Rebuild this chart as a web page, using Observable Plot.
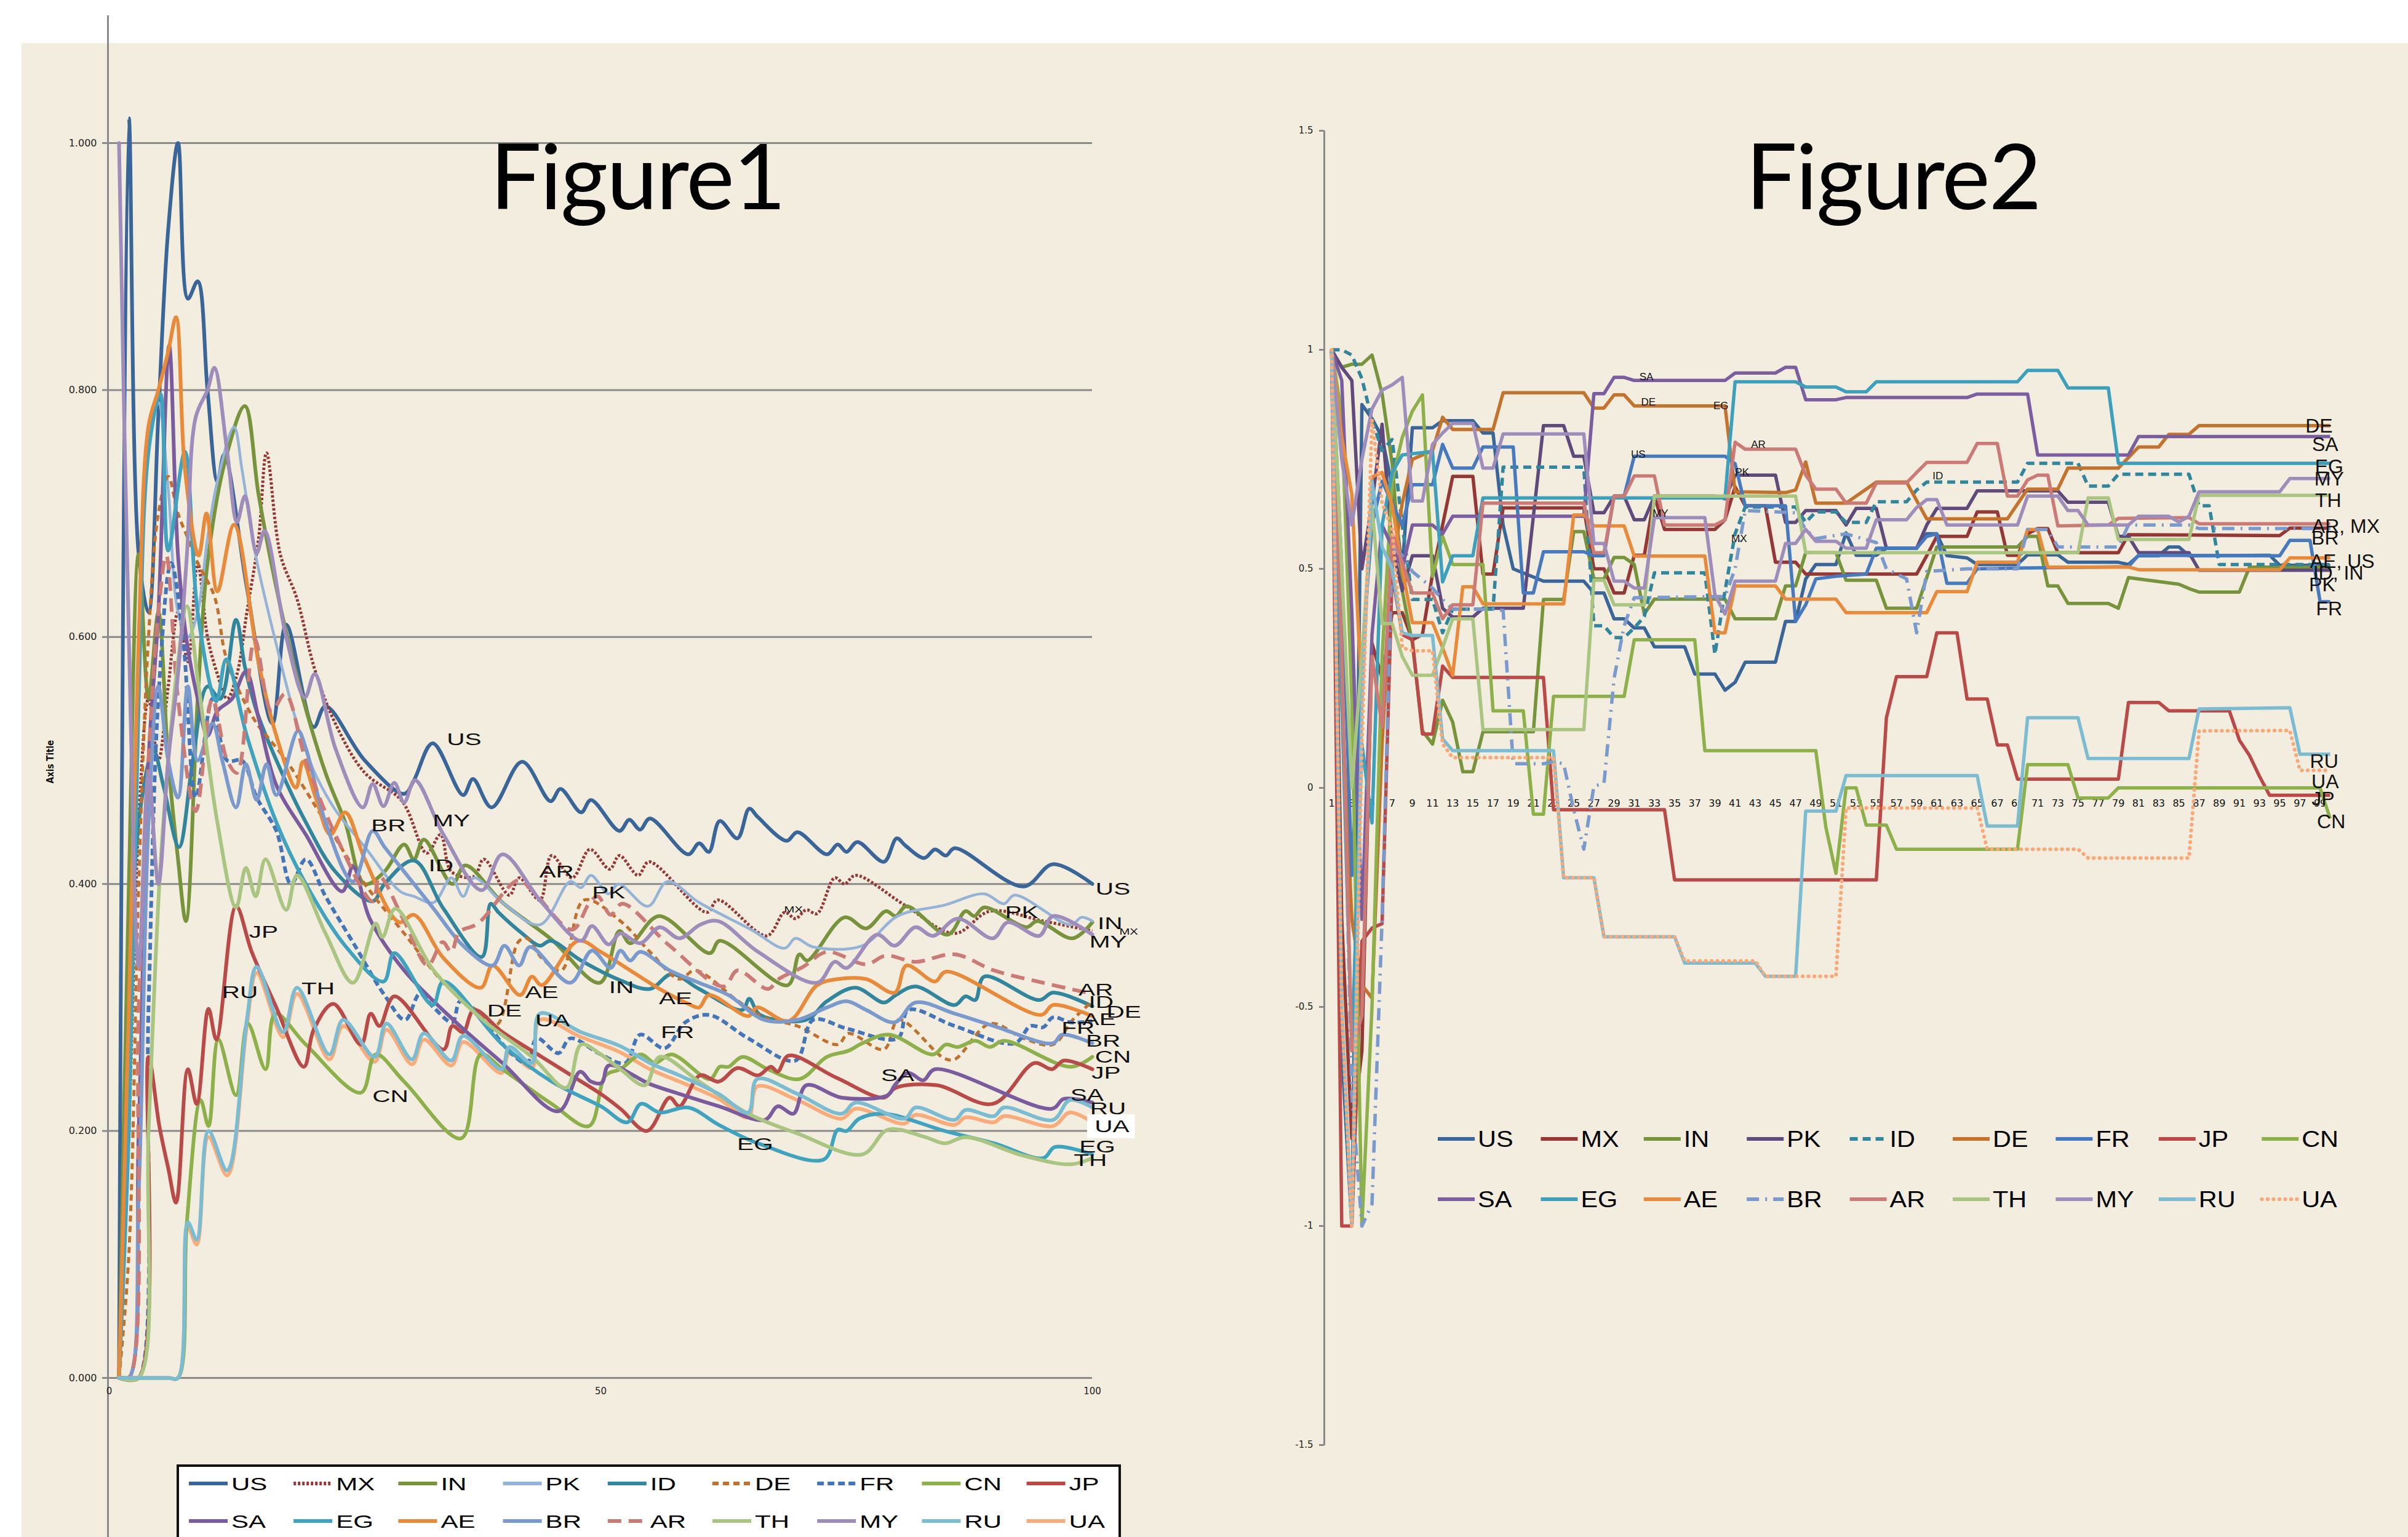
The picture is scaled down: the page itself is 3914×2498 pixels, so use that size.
<!DOCTYPE html>
<html><head><meta charset="utf-8">
<script src="https://cdn.jsdelivr.net/npm/d3@7"></script>
<script src="https://cdn.jsdelivr.net/npm/@observablehq/plot@0.6"></script>
<style>
html,body{margin:0;padding:0;background:#fff;}
#page{position:relative;width:3914px;height:2498px;overflow:hidden;background:#fff;}
#beige{position:absolute;left:35px;top:70px;width:3879px;height:2428px;background:#F3EDDF;}
.vline{position:absolute;background:#8a8a8a;}
</style></head>
<body><div id="page"><div id="beige"></div>
<div class="vline" style="left:174px;top:25px;width:3px;height:2473px;"></div>
<div class="vline" style="left:2151px;top:212px;width:3px;height:2137px;"></div>
</div>
<script>
// ---------------- Figure 1 data: [t, value] ----------------
const f1_US = [[1,0],[2,1.02],[3,0.667],[4,0.62],[5,0.78],[6,0.93],[7,1.0],[8,0.874],[9,0.888],[10,0.8],[11,0.726],[11.7,0.748],[14,0.64],[16.6,0.53],[18,0.61],[20.8,0.527],[22,0.544],[26,0.5],[30,0.473],[31,0.484],[32.9,0.514],[36,0.472],[37,0.485],[38.9,0.462],[42,0.499],[44.9,0.467],[45.9,0.477],[48,0.458],[49,0.468],[51.9,0.443],[52.9,0.452],[54,0.444],[55,0.453],[58.9,0.424],[60,0.433],[61,0.426],[62.1,0.451],[63.9,0.437],[65.1,0.461],[66,0.454],[68.9,0.435],[70,0.442],[73,0.424],[74.1,0.432],[75,0.426],[76.1,0.434],[78.8,0.418],[80.1,0.437],[81,0.431],[82.9,0.421],[84,0.428],[85.1,0.423],[86,0.429],[93,0.398],[96,0.416],[100,0.4]];
const f1_MX = [[1,0],[2,0.2],[3,0.45],[4,0.55],[5,0.5],[6,0.56],[7,0.62],[8,0.58],[9,0.66],[10,0.6],[11,0.57],[12,0.55],[13,0.57],[14,0.62],[15.2,0.68],[16,0.749],[17.4,0.667],[19.1,0.631],[20.9,0.574],[23,0.53],[26,0.49],[29.8,0.467],[32.3,0.425],[33.7,0.44],[34.8,0.41],[37.1,0.406],[38.1,0.42],[40.7,0.391],[41.7,0.405],[43.8,0.387],[45,0.423],[47.1,0.405],[48.9,0.428],[50.9,0.412],[51.9,0.423],[53.8,0.407],[54.9,0.418],[60.8,0.377],[61.9,0.387],[66.9,0.358],[68.7,0.377],[69.8,0.372],[70.9,0.379],[72,0.376],[73.8,0.405],[74.8,0.4],[75.9,0.407],[80.9,0.383],[86,0.36],[89.6,0.378],[95,0.37],[100,0.362]];
const f1_IN = [[1,0],[2,0.4],[3,0.667],[4,0.55],[5,0.62],[6,0.5],[7,0.42],[7.8,0.37],[9,0.55],[10,0.66],[11.8,0.743],[13.8,0.787],[15.2,0.715],[17,0.64],[19.1,0.568],[22,0.49],[24,0.45],[26,0.4],[28,0.41],[30,0.432],[31,0.42],[32,0.436],[34.9,0.4],[36.2,0.415],[40,0.385],[45,0.355],[49.9,0.32],[51.9,0.362],[53,0.352],[55.9,0.374],[61.1,0.344],[62.1,0.354],[69,0.318],[70.2,0.343],[71,0.338],[74.8,0.373],[77,0.364],[79,0.378],[80,0.374],[81.1,0.382],[85.3,0.359],[87.1,0.378],[88,0.374],[89,0.381],[93.3,0.365],[94.4,0.37],[98,0.356],[100,0.369]];
const f1_PK = [[1,0],[2,0.3],[3,0.6],[4,0.75],[5,0.79],[6,0.72],[7,0.62],[8,0.6],[9,0.62],[10,0.68],[11,0.726],[12.7,0.77],[13.5,0.736],[14.9,0.666],[16.9,0.597],[19.1,0.53],[20.8,0.492],[23,0.46],[26,0.43],[29.6,0.394],[31,0.39],[33,0.385],[34.8,0.405],[36,0.39],[37.1,0.405],[40,0.385],[43.8,0.367],[46.9,0.402],[48,0.397],[49,0.407],[50.8,0.392],[51.8,0.4],[54.8,0.382],[56.8,0.402],[60,0.385],[65.3,0.363],[68.7,0.348],[69.8,0.356],[71.6,0.349],[76.6,0.35],[80.2,0.374],[85,0.383],[89,0.392],[91,0.384],[92.1,0.391],[97.8,0.367],[98.9,0.373],[100,0.37]];
const f1_ID = [[1,0],[2,0.25],[3,0.45],[4.5,0.508],[5.5,0.48],[7.1,0.43],[8.5,0.5],[10,0.56],[11.3,0.55],[12.9,0.614],[13.8,0.576],[15,0.54],[17.4,0.493],[20,0.45],[23,0.41],[26.8,0.386],[28,0.4],[31,0.419],[34,0.38],[37.9,0.341],[38.8,0.384],[39.6,0.377],[42,0.36],[43.8,0.35],[44.9,0.354],[48,0.338],[52,0.322],[55,0.315],[57.2,0.327],[60,0.315],[64.4,0.298],[65.1,0.307],[66.2,0.294],[70.9,0.29],[73,0.305],[75.9,0.316],[78.8,0.304],[80,0.31],[82,0.317],[86,0.302],[87.1,0.309],[88.1,0.306],[89,0.325],[94.6,0.306],[96,0.312],[100,0.301]];
const f1_DE = [[1,0],[2,0.1],[3,0.4],[4,0.6],[5,0.7],[6,0.73],[7,0.7],[8,0.68],[9,0.66],[10.7,0.633],[11.8,0.586],[13,0.56],[15,0.53],[16,0.52],[18,0.5],[22,0.45],[26,0.4],[30,0.36],[34,0.32],[37,0.3],[39.4,0.286],[41.6,0.353],[42.5,0.356],[44,0.34],[46,0.33],[48.3,0.387],[52,0.37],[55,0.345],[58,0.323],[59.6,0.33],[64,0.305],[66.6,0.292],[70,0.285],[74.1,0.27],[75.2,0.279],[78.8,0.266],[80.3,0.29],[84.9,0.259],[86,0.258],[89.6,0.287],[93,0.275],[96,0.27],[98,0.29],[100,0.305]];
const f1_FR = [[1,0],[2,0],[3,0],[4,0.3],[5,0.55],[6.3,0.66],[7.5,0.6],[8.8,0.47],[10.5,0.55],[12,0.5],[13.5,0.5],[15,0.47],[17,0.443],[18.5,0.4],[20,0.42],[22,0.39],[25,0.35],[28,0.31],[30.1,0.29],[31.6,0.311],[33,0.3],[34.9,0.288],[35.7,0.305],[38,0.29],[41,0.262],[42.5,0.255],[43.5,0.275],[45.7,0.263],[46.9,0.275],[50,0.262],[52.5,0.255],[54,0.278],[56.5,0.267],[58.6,0.288],[61,0.294],[65,0.275],[69.8,0.257],[71.6,0.29],[75,0.283],[80.2,0.275],[81.3,0.298],[86,0.285],[92.1,0.271],[93.7,0.285],[95,0.284],[96,0.292],[97.8,0.288],[100,0.289]];
const f1_CN = [[1,0],[6,0],[7,0],[7.9,0.126],[9.3,0.225],[10.1,0.204],[11.1,0.274],[12.9,0.229],[14.1,0.287],[15.9,0.25],[16.9,0.295],[20,0.27],[25.6,0.231],[27.1,0.262],[30,0.24],[35.8,0.194],[37.8,0.262],[40,0.25],[45,0.222],[48.8,0.204],[50.5,0.245],[52,0.25],[54.1,0.262],[55.5,0.255],[57.2,0.262],[61.1,0.242],[62.1,0.252],[63,0.252],[64.4,0.26],[67,0.25],[70.2,0.242],[73,0.26],[75.2,0.265],[76.6,0.271],[79.3,0.278],[83.8,0.262],[85.1,0.27],[86.3,0.268],[88.1,0.273],[89.6,0.268],[91,0.273],[97.8,0.252],[100,0.26]];
const f1_JP = [[1,0],[3,0],[4,0.26],[5.1,0.204],[6,0.17],[6.8,0.142],[8,0.25],[8.9,0.222],[10.1,0.299],[10.9,0.274],[12.9,0.382],[14.5,0.345],[17,0.3],[19.8,0.252],[20.8,0.282],[22.8,0.303],[25.6,0.27],[26.6,0.295],[27.5,0.285],[29,0.309],[34,0.266],[34.9,0.285],[36,0.28],[37.1,0.298],[40,0.28],[44,0.26],[47,0.245],[50,0.23],[52,0.218],[54.7,0.2],[57,0.227],[58,0.22],[60.1,0.245],[62,0.24],[63.9,0.251],[66,0.245],[67.3,0.252],[68,0.248],[69.1,0.261],[74,0.243],[78.8,0.227],[80,0.235],[84.2,0.237],[89.9,0.222],[94.1,0.255],[95.9,0.25],[97.1,0.257],[100,0.25]];
const f1_SA = [[1,0],[2,0],[3,0.2],[4,0.5],[5,0.62],[6.1,0.836],[7,0.666],[7.9,0.596],[9,0.55],[10,0.52],[11,0.54],[12.5,0.55],[13.9,0.572],[15.2,0.534],[17,0.48],[20,0.44],[23.7,0.394],[24.8,0.414],[26.5,0.372],[30,0.33],[35,0.29],[40,0.255],[45.7,0.216],[47.9,0.248],[49,0.24],[50.1,0.239],[50.8,0.253],[55,0.238],[58,0.23],[62,0.22],[66.7,0.209],[68,0.22],[69.6,0.214],[70.9,0.237],[74.5,0.227],[79.2,0.229],[79.9,0.237],[81.3,0.247],[82.8,0.241],[84,0.25],[95.9,0.218],[97.1,0.226],[100,0.223]];
const f1_EG = [[1,0],[2,0.2],[3,0.55],[4,0.75],[5.2,0.797],[6,0.67],[7.7,0.75],[9,0.62],[10.9,0.548],[11.9,0.582],[14,0.52],[17,0.45],[20,0.4],[24,0.35],[27.9,0.321],[29,0.344],[32.9,0.302],[34,0.321],[40,0.27],[45,0.24],[50,0.22],[52.7,0.207],[54.1,0.222],[56,0.215],[58.9,0.219],[62,0.205],[66,0.19],[72.7,0.177],[74.1,0.201],[75,0.2],[76.3,0.21],[78.8,0.214],[85,0.2],[90,0.19],[95,0.178],[96.2,0.187],[100,0.181]];
const f1_AE = [[1,0],[2,0.3],[3,0.6],[4,0.771],[5,0.8],[6,0.831],[6.8,0.859],[7.7,0.736],[9.1,0.666],[9.9,0.7],[11,0.637],[12.7,0.691],[15.2,0.579],[17,0.52],[19,0.478],[19.7,0.499],[21,0.47],[22.5,0.44],[24,0.458],[26,0.42],[29.5,0.369],[31,0.375],[34,0.34],[37.8,0.316],[39,0.334],[41.8,0.31],[43,0.325],[44,0.318],[47.7,0.354],[50,0.345],[53,0.33],[56,0.315],[58.9,0.303],[60,0.3],[61,0.31],[65,0.293],[65.9,0.3],[69.1,0.289],[72,0.318],[74.1,0.323],[77,0.323],[79.9,0.312],[81.1,0.334],[84,0.321],[85.1,0.329],[94.8,0.294],[96,0.302],[100,0.293]];
const f1_BR = [[1,0],[2,0],[3,0.15],[4,0.45],[5,0.56],[6,0.5],[7,0.47],[8,0.56],[9,0.5],[10.5,0.53],[11.5,0.5],[12.9,0.462],[13.9,0.497],[15,0.468],[16,0.497],[17,0.472],[19.2,0.524],[20,0.51],[22,0.45],[24.8,0.402],[26.8,0.443],[28,0.43],[30,0.41],[33,0.38],[36,0.35],[39,0.334],[40.2,0.35],[41.7,0.334],[42.8,0.349],[46.9,0.32],[49.1,0.346],[51,0.332],[52,0.346],[53,0.338],[54,0.345],[57,0.33],[60,0.32],[63,0.31],[66.6,0.29],[70,0.29],[73,0.3],[75,0.305],[77,0.298],[79.9,0.288],[82,0.304],[86,0.295],[90,0.285],[96,0.271],[96.9,0.278],[100,0.271]];
const f1_AR = [[1,0],[2,0],[3,0.3],[4,0.5],[5,0.62],[5.8,0.666],[7,0.55],[8.8,0.459],[10.5,0.55],[12,0.5],[13,0.49],[14.8,0.598],[16.5,0.54],[17.9,0.554],[20,0.5],[23,0.44],[26.8,0.386],[27.5,0.406],[30,0.37],[32.4,0.334],[33.9,0.353],[34.8,0.345],[35.6,0.361],[37.5,0.368],[41.6,0.403],[43,0.395],[47.1,0.363],[48.8,0.384],[49.7,0.39],[51,0.375],[52.2,0.384],[57,0.35],[62.5,0.317],[63.9,0.33],[67,0.315],[68.1,0.323],[70.6,0.333],[73,0.345],[77,0.335],[79,0.342],[82,0.337],[86,0.343],[90,0.33],[95,0.32],[100,0.311]];
const f1_TH = [[1,0],[3,0],[4,0.2],[5.1,0.4],[6,0.5],[7,0.58],[7.9,0.625],[9.1,0.56],[11,0.45],[12.9,0.381],[13.9,0.413],[14.9,0.39],[15.9,0.42],[18,0.379],[19.1,0.407],[22,0.36],[24.8,0.32],[27.1,0.368],[27.8,0.357],[29.1,0.38],[33,0.33],[38,0.29],[43,0.26],[46.5,0.235],[48,0.27],[50,0.262],[52,0.25],[54.5,0.237],[56,0.26],[60,0.24],[65,0.214],[70,0.198],[76.6,0.181],[79.2,0.201],[83,0.195],[85,0.19],[87.1,0.195],[93,0.18],[97.8,0.173],[100,0.178]];
const f1_MY = [[1,1.0],[2,0.6],[3,0.333],[4,0.49],[5,0.4],[6,0.5],[7,0.57],[7.9,0.666],[8.8,0.778],[10,0.8],[10.7,0.818],[12,0.75],[13,0.693],[13.8,0.714],[15,0.668],[15.8,0.686],[18,0.6],[19.9,0.551],[20.9,0.57],[23,0.51],[25.8,0.462],[26.8,0.481],[27.9,0.463],[29,0.482],[30,0.466],[31.1,0.484],[34,0.44],[37.9,0.395],[40,0.424],[44,0.385],[48,0.354],[49.1,0.366],[50.8,0.351],[52,0.36],[54,0.352],[56,0.365],[58,0.356],[60.1,0.367],[61.9,0.37],[66,0.345],[72,0.32],[73.8,0.337],[75,0.332],[78.1,0.359],[79.9,0.35],[82,0.365],[83.8,0.358],[86.3,0.372],[89.9,0.356],[91.4,0.369],[94.6,0.358],[96,0.374],[100,0.359]];
const f1_RU = [[1,0],[6,0],[7,0],[8,0.126],[8.9,0.112],[10.1,0.2],[12,0.168],[14,0.29],[15,0.333],[17.7,0.28],[19.1,0.316],[22.4,0.262],[23.8,0.29],[27,0.26],[28.2,0.287],[30.8,0.258],[32,0.279],[34.8,0.257],[36,0.277],[39.9,0.25],[40.7,0.268],[43,0.255],[43.8,0.295],[48,0.28],[51.9,0.269],[55,0.255],[58,0.245],[62,0.23],[65,0.215],[65.9,0.242],[70,0.23],[74.5,0.214],[75.9,0.223],[80.9,0.21],[82,0.219],[86,0.209],[87.1,0.217],[90,0.212],[91,0.219],[96,0.209],[97.7,0.225],[100,0.219]];
const f1_UA = [[1,0],[6,0],[7,0],[8,0.122],[8.9,0.108],[10.1,0.195],[12,0.164],[14,0.285],[15,0.328],[17.7,0.276],[19.1,0.311],[22.4,0.258],[23.8,0.285],[27,0.256],[28.2,0.282],[30.8,0.254],[32,0.274],[34.8,0.253],[36,0.272],[39.9,0.247],[40.7,0.263],[43,0.251],[43.8,0.29],[48,0.276],[51.9,0.264],[55,0.25],[58,0.24],[62,0.226],[65,0.211],[65.9,0.236],[70,0.225],[74.5,0.21],[75.9,0.218],[80.9,0.206],[82,0.213],[86,0.205],[87.1,0.211],[90,0.207],[91,0.212],[96,0.204],[97.7,0.215],[100,0.207]];

const f1_labels = [["US",36.1,0.517],["BR",28.4,0.447],["MY",34.8,0.451],["ID",33.75,0.415],["AR",45.5,0.41],["PK",50.8,0.393],["JP",15.7,0.361],["RU",13.3,0.312],["TH",21.25,0.315],["DE",40.2,0.297],["AE",44,0.312],["UA",45.1,0.289],["IN",52.1,0.316],["AE",57.6,0.307],["FR",57.8,0.28],["CN",28.6,0.228],["SA",80.2,0.245],["EG",65.7,0.189],
  ["US",102.1,0.396],["PK",92.8,0.377],["IN",101.8,0.368],["MY",101.6,0.353],["AR",100.35,0.314],["ID",100.9,0.304],["DE",103.2,0.296],["AE",100.7,0.29],["FR",98.55,0.283],["BR",101.1,0.273],["CN",102.1,0.26],["JP",101.4,0.247],["SA",99.45,0.229],["RU",101.6,0.218],["UA",102,0.2035],["EG",100.5,0.187],["TH",99.8,0.176]];
const f1_smallLabels = [["MX",69.6,0.379],["MX",103.7,0.361]];
const f1_yTicks = [0, 0.2, 0.4, 0.6, 0.8, 1.0];
const f1_xTicks = [0, 50, 100];
const f1_legendRow1 = ["US","MX","IN","PK","ID","DE","FR","CN","JP"];
const f1_legendRow2 = ["SA","EG","AE","BR","AR","TH","MY","RU","UA"];

// ---------------- Figure 2 data: [category, value] ----------------
const f2_US = [[1,1],[2,-0.6],[3,-1.0],[4,0.875],[5,0.843],[6,0.8],[7,0.687],[8,0.5],[9,0.822],[11,0.822],[12,0.838],[15,0.838],[16,0.81],[17,0.81],[18,0.6],[19,0.5],[22,0.472],[26,0.472],[27,0.445],[28,0.445],[29,0.386],[30,0.386],[31,0.365],[32,0.365],[33,0.322],[36,0.322],[37,0.26],[39,0.26],[40,0.223],[41,0.241],[42,0.287],[45,0.287],[46,0.38],[47,0.38],[48,0.477],[49,0.51],[51,0.51],[52,0.582],[53,0.531],[55,0.531],[56,0.547],[59,0.547],[60,0.58],[61,0.58],[62,0.53],[64,0.525],[65,0.51],[69,0.51],[70,0.532],[73,0.532],[74,0.515],[79,0.515],[80,0.51],[81,0.53],[83,0.53],[84,0.55],[85,0.55],[86,0.53],[94,0.531],[95,0.508],[100,0.508]];
const f2_MX = [[1,1],[2,-0.3],[3,-0.8],[4,-0.6],[5,0.33],[6,0.25],[7,0.4],[8,0.4],[9,0.338],[10,0.35],[11,0.488],[12,0.6],[13,0.711],[15,0.711],[16,0.488],[17,0.488],[18,0.639],[26,0.639],[27,0.5],[28,0.5],[29,0.445],[30,0.445],[31,0.531],[32,0.531],[33,0.666],[34,0.59],[39,0.59],[40,0.612],[41,0.687],[42,0.644],[44,0.644],[45,0.515],[47,0.515],[48,0.488],[59,0.488],[60,0.53],[61,0.574],[64,0.574],[65,0.63],[67,0.63],[68,0.531],[69,0.531],[70,0.58],[71,0.592],[72,0.592],[73,0.537],[79,0.537],[80,0.578],[95,0.576],[96,0.593],[100,0.593]];
const f2_IN = [[1,1],[2,0.96],[3,0.967],[4,0.967],[5,0.988],[6,0.9],[7,0.74],[8,0.45],[9,0.33],[10,0.13],[11,0.1],[12,0.2],[13,0.15],[14,0.037],[15,0.037],[16,0.128],[21,0.128],[22,0.43],[24,0.43],[25,0.585],[26,0.585],[27,0.477],[28,0.477],[29,0.526],[30,0.526],[31,0.51],[32,0.397],[33,0.431],[40,0.431],[41,0.386],[45,0.386],[46,0.461],[47,0.461],[48,0.537],[51,0.537],[52,0.474],[55,0.474],[56,0.41],[59,0.41],[60,0.48],[61,0.55],[69,0.55],[70,0.574],[71,0.574],[72,0.461],[73,0.461],[74,0.421],[78,0.421],[79,0.41],[80,0.48],[85,0.465],[86,0.455],[87,0.447],[91,0.447],[92,0.504],[100,0.504]];
const f2_PK = [[1,1],[2,0.96],[3,0.93],[4,0.5],[5,0.65],[6,0.83],[7,0.55],[8,0.45],[9,0.53],[11,0.53],[12,0.41],[13,0.39],[15,0.39],[16,0.41],[20,0.41],[21,0.62],[22,0.827],[24,0.827],[25,0.757],[26,0.757],[27,0.628],[28,0.628],[29,0.666],[30,0.666],[31,0.612],[32,0.612],[33,0.666],[39,0.666],[40,0.66],[41,0.714],[45,0.714],[46,0.606],[47,0.606],[48,0.633],[51,0.633],[52,0.6],[53,0.638],[55,0.638],[56,0.547],[59,0.547],[60,0.6],[61,0.638],[64,0.638],[65,0.678],[73,0.678],[74,0.652],[78,0.652],[79,0.574],[80,0.574],[81,0.537],[86,0.537],[87,0.497],[100,0.497]];
const f2_ID = [[1,1],[2,1.0],[3,0.988],[4,0.934],[5,0.84],[6,0.77],[7,0.795],[8,0.6],[9,0.43],[11,0.43],[12,0.354],[13,0.408],[17,0.408],[18,0.732],[26,0.732],[27,0.37],[28,0.37],[29,0.343],[30,0.343],[31,0.365],[32,0.391],[33,0.491],[38,0.491],[39,0.305],[40,0.45],[41,0.58],[42,0.641],[47,0.641],[48,0.606],[49,0.63],[51,0.63],[52,0.606],[54,0.606],[55,0.653],[58,0.653],[59,0.68],[60,0.698],[69,0.698],[70,0.741],[75,0.741],[76,0.689],[78,0.689],[79,0.716],[86,0.716],[87,0.644],[88,0.644],[89,0.51],[100,0.51]];
const f2_DE = [[1,1],[2,0.2],[3,-0.3],[4,-0.45],[5,-0.48],[6,0.1],[7,0.5],[8,0.65],[9,0.75],[10,0.76],[11,0.77],[12,0.846],[13,0.818],[17,0.818],[18,0.902],[26,0.902],[27,0.867],[28,0.867],[29,0.897],[30,0.897],[31,0.872],[40,0.872],[41,0.676],[46,0.674],[47,0.68],[48,0.744],[49,0.65],[52,0.65],[55,0.698],[58,0.698],[60,0.614],[68,0.614],[70,0.682],[73,0.682],[74,0.73],[79,0.73],[81,0.778],[83,0.778],[84,0.807],[86,0.807],[87,0.827],[100,0.827]];
const f2_FR = [[1,1],[2,0.5],[3,-0.2],[4,0.3],[5,0.6],[6,0.7],[7,0.65],[8,0.6],[9,0.692],[11,0.692],[12,0.784],[13,0.73],[15,0.73],[16,0.778],[19,0.778],[20,0.445],[21,0.445],[22,0.539],[26,0.539],[27,0.53],[28,0.53],[29,0.666],[30,0.666],[31,0.757],[40,0.757],[41,0.74],[42,0.644],[46,0.644],[47,0.38],[48,0.418],[49,0.477],[51,0.483],[54,0.488],[55,0.547],[59,0.547],[60,0.574],[61,0.58],[62,0.467],[64,0.467],[65,0.5],[70,0.502],[80,0.505],[81,0.531],[95,0.53],[96,0.565],[98,0.565],[99,0.425],[100,0.425]];
const f2_JP = [[1,1],[2,-1],[3,-1],[4,-0.35],[5,-0.32],[6,-0.31],[7,0.49],[8,0.35],[9,0.338],[10,0.123],[11,0.123],[12,0.278],[13,0.252],[22,0.252],[23,-0.05],[34,-0.05],[35,-0.21],[55,-0.21],[56,0.16],[57,0.254],[60,0.254],[61,0.354],[63,0.354],[64,0.203],[66,0.203],[67,0.098],[68,0.098],[69,0.02],[79,0.02],[80,0.195],[83,0.195],[84,0.176],[90,0.176],[91,0.109],[92,0.074],[93,0.026],[94,-0.017],[100,-0.017]];
const f2_CN = [[1,1],[2,0.85],[3,0.2],[4,-1.0],[5,-0.5],[6,0.3],[7,0.7],[8,0.8],[9,0.86],[10,0.897],[11,0.483],[12,0.574],[13,0.51],[16,0.51],[17,0.176],[20,0.176],[21,-0.06],[22,-0.06],[23,0.209],[30,0.209],[31,0.338],[37,0.338],[38,0.085],[49,0.085],[50,-0.09],[51,-0.195],[52,0.0],[53,0.0],[54,-0.085],[56,-0.085],[57,-0.14],[69,-0.14],[70,0.053],[74,0.053],[75,-0.023],[78,-0.023],[79,0.0],[99,0.0],[100,-0.07]];
const f2_SA = [[1,1],[2,0.93],[3,0.4],[4,-0.3],[5,0.35],[6,0.6],[7,0.55],[8,0.5],[9,0.6],[11,0.6],[12,0.58],[13,0.62],[26,0.62],[27,0.9],[28,0.9],[29,0.937],[30,0.937],[31,0.93],[40,0.93],[41,0.947],[45,0.947],[46,0.96],[47,0.96],[48,0.886],[51,0.886],[52,0.891],[64,0.891],[65,0.899],[70,0.899],[71,0.76],[80,0.76],[81,0.802],[100,0.802]];
const f2_EG = [[1,1],[2,0.2],[3,-0.6],[4,0.1],[5,-0.08],[6,0.6],[7,0.72],[8,0.76],[11,0.768],[12,0.47],[13,0.53],[15,0.53],[16,0.662],[40,0.662],[41,0.927],[47,0.927],[48,0.915],[51,0.915],[52,0.904],[54,0.904],[55,0.927],[69,0.927],[70,0.953],[73,0.953],[74,0.913],[78,0.913],[79,0.741],[100,0.741]];
const f2_AE = [[1,1],[2,0.8],[3,0.67],[4,0.2],[5,0.71],[6,0.72],[7,0.645],[8,0.5],[9,0.377],[11,0.377],[12,0.32],[13,0.257],[14,0.459],[15,0.459],[16,0.42],[24,0.42],[25,0.623],[26,0.623],[27,0.598],[30,0.598],[31,0.529],[38,0.529],[39,0.354],[40,0.354],[41,0.461],[45,0.461],[46,0.431],[51,0.431],[52,0.4],[60,0.4],[61,0.448],[64,0.448],[65,0.515],[69,0.515],[70,0.59],[71,0.59],[72,0.504],[80,0.504],[81,0.498],[95,0.498],[96,0.525],[100,0.525]];
const f2_BR = [[1,1],[2,0.3],[3,-0.7],[4,-1],[5,-0.95],[6,-0.3],[7,0.55],[8,0.53],[9,0.494],[10,0.475],[11,0.456],[12,0.43],[13,0.408],[17,0.408],[18,0.405],[19,0.055],[22,0.055],[23,0.06],[24,0.055],[25,-0.05],[26,-0.14],[27,0.004],[28,0.01],[29,0.25],[30,0.37],[31,0.434],[40,0.437],[41,0.5],[42,0.633],[47,0.628],[48,0.59],[49,0.569],[52,0.58],[55,0.56],[56,0.5],[58,0.477],[59,0.354],[60,0.494],[64,0.5],[69,0.5],[70,0.59],[72,0.59],[73,0.55],[79,0.55],[80,0.6],[86,0.6],[87,0.592],[100,0.592]];
const f2_AR = [[1,1],[2,0.3],[3,-0.6],[4,-0.52],[5,0.3],[6,0.139],[7,0.58],[8,0.515],[9,0.445],[11,0.445],[12,0.386],[13,0.418],[15,0.418],[16,0.65],[26,0.65],[27,0.537],[28,0.537],[29,0.666],[30,0.666],[31,0.712],[33,0.712],[34,0.6],[39,0.6],[40,0.612],[41,0.789],[42,0.773],[47,0.773],[48,0.714],[49,0.682],[51,0.682],[52,0.65],[54,0.65],[55,0.696],[58,0.696],[59,0.72],[60,0.743],[64,0.743],[65,0.786],[67,0.786],[68,0.666],[69,0.666],[70,0.703],[71,0.714],[72,0.714],[73,0.598],[78,0.6],[79,0.615],[86,0.617],[87,0.603],[100,0.603]];
const f2_TH = [[1,1],[2,0.5],[3,0.0],[4,0.3],[5,0.644],[6,0.375],[7,0.375],[8,0.3],[9,0.257],[11,0.257],[12,0.32],[13,0.386],[15,0.386],[16,0.133],[26,0.133],[27,0.474],[28,0.474],[29,0.418],[32,0.418],[33,0.666],[47,0.666],[48,0.537],[75,0.537],[76,0.662],[78,0.662],[79,0.567],[86,0.567],[87,0.668],[100,0.668]];
const f2_MY = [[1,1],[2,0.75],[3,0.6],[4,0.75],[5,0.865],[6,0.908],[7,0.92],[8,0.937],[9,0.655],[10,0.655],[11,0.784],[12,0.81],[13,0.832],[15,0.832],[16,0.73],[17,0.73],[18,0.808],[26,0.808],[27,0.558],[28,0.558],[29,0.472],[30,0.472],[31,0.456],[32,0.456],[33,0.617],[38,0.617],[39,0.44],[40,0.397],[41,0.472],[45,0.472],[46,0.558],[47,0.558],[48,0.59],[49,0.563],[51,0.563],[52,0.547],[54,0.547],[55,0.612],[58,0.612],[59,0.64],[60,0.658],[61,0.658],[62,0.6],[69,0.6],[70,0.666],[73,0.666],[74,0.633],[75,0.633],[76,0.6],[80,0.6],[81,0.62],[84,0.62],[85,0.607],[86,0.62],[87,0.676],[95,0.676],[96,0.706],[100,0.706]];
const f2_RU = [[1,1],[2,-0.5],[3,-1.0],[4,0.2],[5,0.7],[6,0.55],[7,0.5],[8,0.354],[9,0.348],[11,0.348],[12,0.112],[13,0.085],[23,0.085],[24,-0.205],[27,-0.205],[28,-0.34],[35,-0.34],[36,-0.4],[43,-0.4],[44,-0.43],[47,-0.43],[48,-0.053],[51,-0.053],[52,0.028],[65,0.028],[66,-0.087],[69,-0.087],[70,0.16],[75,0.16],[76,0.067],[86,0.067],[87,0.18],[96,0.183],[97,0.077],[100,0.077]];
const f2_UA = [[1,1],[2,-0.5],[3,-1],[4,0.1],[5,0.84],[6,0.65],[7,0.59],[8,0.32],[9,0.313],[11,0.313],[12,0.1],[13,0.069],[23,0.069],[24,-0.205],[27,-0.205],[28,-0.34],[35,-0.34],[36,-0.395],[43,-0.395],[44,-0.43],[51,-0.43],[52,-0.046],[65,-0.046],[66,-0.14],[75,-0.14],[76,-0.16],[86,-0.16],[87,0.13],[96,0.131],[97,0.04],[100,0.04]];

const f2_midLabels = [["SA",32.2,0.938],["DE",32.4,0.88],["EG",39.6,0.872],["US",31.4,0.761],["AR",43.3,0.783],["PK",41.7,0.72],["MY",33.6,0.626],["MX",41.4,0.569],["ID",61.1,0.712]];
const f2_endLabels = [["DE",98.9,0.826],["SA",99.5,0.784],["EG",99.9,0.733],["MY",99.9,0.705],["TH",99.8,0.656],["AR, MX",101.55,0.597],["BR",99.5,0.57],["AE, US",101.2,0.517],["ID, IN",100.8,0.49],["PK",99.2,0.463],["FR",99.9,0.409],["RU",99.4,0.06],["UA",99.5,0.014],["JP",99.3,-0.025],["CN",100.1,-0.077]];
const f2_yTicks = [-1.5,-1,-0.5,0,0.5,1,1.5];
const f2_xLabels = d3.range(1, 100, 2);
const f2_legendRow1 = ["US","MX","IN","PK","ID","DE","FR","JP","CN"];
const f2_legendRow2 = ["SA","EG","AE","BR","AR","TH","MY","RU","UA"];

// ---------------- styles ----------------
const S1 = {
  US:{c:"#3A6598",w:6}, MX:{c:"#953735",w:5,d:"4,3"}, IN:{c:"#77933C",w:6}, PK:{c:"#95B3D7",w:4.5},
  ID:{c:"#31859C",w:6}, DE:{c:"#C0712E",w:5,d:"10,7"}, FR:{c:"#4575B9",w:6,d:"11,6"}, CN:{c:"#8DB04B",w:6},
  JP:{c:"#B94A48",w:6}, SA:{c:"#7A5C9E",w:6}, EG:{c:"#3FA2BE",w:6}, AE:{c:"#E9893A",w:6},
  BR:{c:"#7A99CC",w:6}, AR:{c:"#CC7A76",w:6,d:"22,12"}, TH:{c:"#AAC581",w:6}, MY:{c:"#9E8CBB",w:6},
  RU:{c:"#7CBCD3",w:6}, UA:{c:"#F9AB7A",w:6}
};
const S2 = {
  US:{c:"#3A6598",w:5.5}, MX:{c:"#953735",w:5.5}, IN:{c:"#77933C",w:5.5}, PK:{c:"#604A7B",w:5.5},
  ID:{c:"#31859C",w:5.5,d:"13,8"}, DE:{c:"#C3732D",w:5.5}, FR:{c:"#4679BD",w:5.5}, JP:{c:"#B94A48",w:5.5},
  CN:{c:"#8DB04B",w:5.5}, SA:{c:"#7B5EA0",w:5.5}, EG:{c:"#3C9FBB",w:5.5}, AE:{c:"#E9893A",w:5.5},
  BR:{c:"#7A99CC",w:5.5,d:"20,10,3,10"}, AR:{c:"#CC7A76",w:5.5}, TH:{c:"#AAC581",w:5.5}, MY:{c:"#9E8CBB",w:5.5},
  RU:{c:"#7CBCD3",w:5.5}, UA:{c:"#F9A877",w:6,d:"0.5,9",cap:"round"}
};
const F1 = {US:f1_US,MX:f1_MX,IN:f1_IN,PK:f1_PK,ID:f1_ID,DE:f1_DE,FR:f1_FR,CN:f1_CN,JP:f1_JP,SA:f1_SA,EG:f1_EG,AE:f1_AE,BR:f1_BR,AR:f1_AR,TH:f1_TH,MY:f1_MY,RU:f1_RU,UA:f1_UA};
const F2 = {US:f2_US,MX:f2_MX,IN:f2_IN,PK:f2_PK,ID:f2_ID,DE:f2_DE,FR:f2_FR,JP:f2_JP,CN:f2_CN,SA:f2_SA,EG:f2_EG,AE:f2_AE,BR:f2_BR,AR:f2_AR,TH:f2_TH,MY:f2_MY,RU:f2_RU,UA:f2_UA};
const order1 = ["UA","US","MX","IN","PK","ID","DE","FR","CN","JP","SA","EG","AE","BR","AR","TH","MY","RU"];
const order2 = ["US","MX","IN","PK","ID","DE","FR","JP","CN","SA","EG","AE","BR","AR","TH","MY","RU","UA"];

const page = document.getElementById("page");

// ---------------- Figure 1 ----------------
const fig1 = Plot.plot({
  width: 1900, height: 2498,
  marginLeft: 176, marginRight: 125, marginTop: 232, marginBottom: 259,
  x: {domain: [0, 100], range: [177, 1775]},
  y: {domain: [0, 1], range: [2239, 232]},
  style: {background: "transparent", overflow: "visible", fontFamily: "DejaVu Sans", color: "#222"},
  marks: [
    Plot.ruleY(f1_yTicks, {stroke: "#8a8a8a", strokeWidth: 3}),
    Plot.axisY({ticks: f1_yTicks, tickFormat: d3.format(".3f"), tickSize: 10, tickPadding: 9, stroke: "#8a8a8a", strokeWidth: 3, fontSize: 16}),
    Plot.axisX({ticks: f1_xTicks, tickSize: 0, tickPadding: 16, fontSize: 15, tickFormat: d => String(d)}),
    ...order1.map(k => Plot.line(F1[k], {x: d => d[0], y: d => d[1], curve: "catmull-rom", stroke: S1[k].c, strokeWidth: S1[k].w, strokeDasharray: S1[k].d, strokeLinejoin: "round", strokeLinecap: S1[k].d ? "butt" : "round"})),
    Plot.rect(f1_labels.filter(d => d[0] === "UA" && d[1] > 100), {x1: d => d[1] - 2.5, x2: d => d[1] + 2.35, y1: d => d[2] - 0.0095, y2: d => d[2] + 0.0098, fill: "white"}),
    Plot.text(f1_labels, {x: d => d[1], y: d => d[2], text: d => d[0], fontSize: 28, fontFamily: "Liberation Sans", fill: "#111"}),
    Plot.text(f1_smallLabels, {x: d => d[1], y: d => d[2], text: d => d[0], fontSize: 14, fontFamily: "Liberation Sans", fill: "#111"})
  ]
});
fig1.style.position = "absolute"; fig1.style.left = "0px"; fig1.style.top = "0px";
page.appendChild(fig1);
fig1.querySelectorAll('g[aria-label="text"] text').forEach(t => {
  t.setAttribute("transform", (t.getAttribute("transform") || "") + " scale(1.45,1)");
});

// ---------------- Figure 2 ----------------
const fig2 = Plot.plot({
  width: 2014, height: 2498,
  marginLeft: 252, marginRight: 100, marginTop: 212, marginBottom: 150,
  x: {domain: [1, 100], range: [264, 1887], axis: null},
  y: {domain: [-1.5, 1.5], range: [2348, 212]},
  style: {background: "transparent", overflow: "visible", fontFamily: "DejaVu Sans", color: "#222"},
  marks: [
    Plot.axisY({ticks: f2_yTicks, tickSize: 8, tickPadding: 10, stroke: "#8a8a8a", strokeWidth: 3, fontSize: 15, tickFormat: d => (d < 0 ? "-" + Math.abs(d) : String(d))}),
    Plot.text(f2_xLabels, {x: d => d, y: () => 0, dy: 25, text: d => String(d), fontSize: 16, fontFamily: "DejaVu Sans", fill: "#111"}),
    ...order2.map(k => Plot.line(F2[k], {x: d => d[0], y: d => d[1], stroke: S2[k].c, strokeWidth: S2[k].w, strokeDasharray: S2[k].d, strokeLinejoin: "round", strokeLinecap: S2[k].cap || "butt"})),
    Plot.text(f2_midLabels, {x: d => d[1], y: d => d[2], text: d => d[0], fontSize: 17, fontFamily: "Liberation Sans", fill: "#111"}),
    Plot.text(f2_endLabels, {x: d => d[1], y: d => d[2], text: d => d[0], fontSize: 32, fontFamily: "Liberation Sans", fill: "#111"})
  ]
});
fig2.style.position = "absolute"; fig2.style.left = "1900px"; fig2.style.top = "0px";
page.appendChild(fig2);

// ---------------- overlay: titles, axis title, legends ----------------
const ov = d3.select(page).append("svg")
  .attr("width", 3914).attr("height", 2498)
  .style("position", "absolute").style("left", "0px").style("top", "0px");

ov.append("text").attr("x", 1036).attr("y", 340).attr("text-anchor", "middle")
  .attr("font-family", "Lato, 'Open Sans', sans-serif").attr("font-size", 148).attr("letter-spacing", -2).attr("fill", "#000").text("Figure1");
ov.append("text").attr("x", 3077).attr("y", 340).attr("text-anchor", "middle")
  .attr("font-family", "Lato, 'Open Sans', sans-serif").attr("font-size", 148).attr("letter-spacing", -2).attr("fill", "#000").text("Figure2");
ov.append("text").attr("transform", "translate(87,1238) rotate(-90)").attr("text-anchor", "middle")
  .attr("font-family", "'Liberation Sans Narrow','DejaVu Sans Condensed',sans-serif").attr("font-weight", "bold")
  .attr("font-size", 15).attr("fill", "#111").text("Axis Title");

// Figure 1 legend
ov.append("rect").attr("x", 289).attr("y", 2382).attr("width", 1531).attr("height", 200)
  .attr("fill", "#fff").attr("stroke", "#111").attr("stroke-width", 4);
[f1_legendRow1, f1_legendRow2].forEach((row, r) => {
  const y = r === 0 ? 2411 : 2472;
  row.forEach((k, j) => {
    const x = 307 + j * 170.2;
    ov.append("line").attr("x1", x).attr("x2", x + 63).attr("y1", y).attr("y2", y)
      .attr("stroke", S1[k].c).attr("stroke-width", 6).attr("stroke-dasharray", S1[k].d || null);
    ov.append("text").attr("transform", `translate(${x + 69},${y + 10.5}) scale(1.45,1)`)
      .attr("font-family", "Liberation Sans").attr("font-size", 29).attr("fill", "#000").text(k);
  });
});

// Figure 2 legend
[f2_legendRow1, f2_legendRow2].forEach((row, r) => {
  const y = r === 0 ? 1851 : 1949;
  row.forEach((k, j) => {
    const x = 2337 + j * 167.4;
    ov.append("line").attr("x1", x).attr("x2", x + 60).attr("y1", y).attr("y2", y)
      .attr("stroke", S2[k].c).attr("stroke-width", 6).attr("stroke-dasharray", S2[k].d || null)
      .attr("stroke-linecap", S2[k].cap || "butt");
    ov.append("text").attr("transform", `translate(${x + 65},${y + 13}) scale(1.12,1)`)
      .attr("font-family", "Liberation Sans").attr("font-size", 37).attr("fill", "#000").text(k);
  });
});
</script>
</body></html>
